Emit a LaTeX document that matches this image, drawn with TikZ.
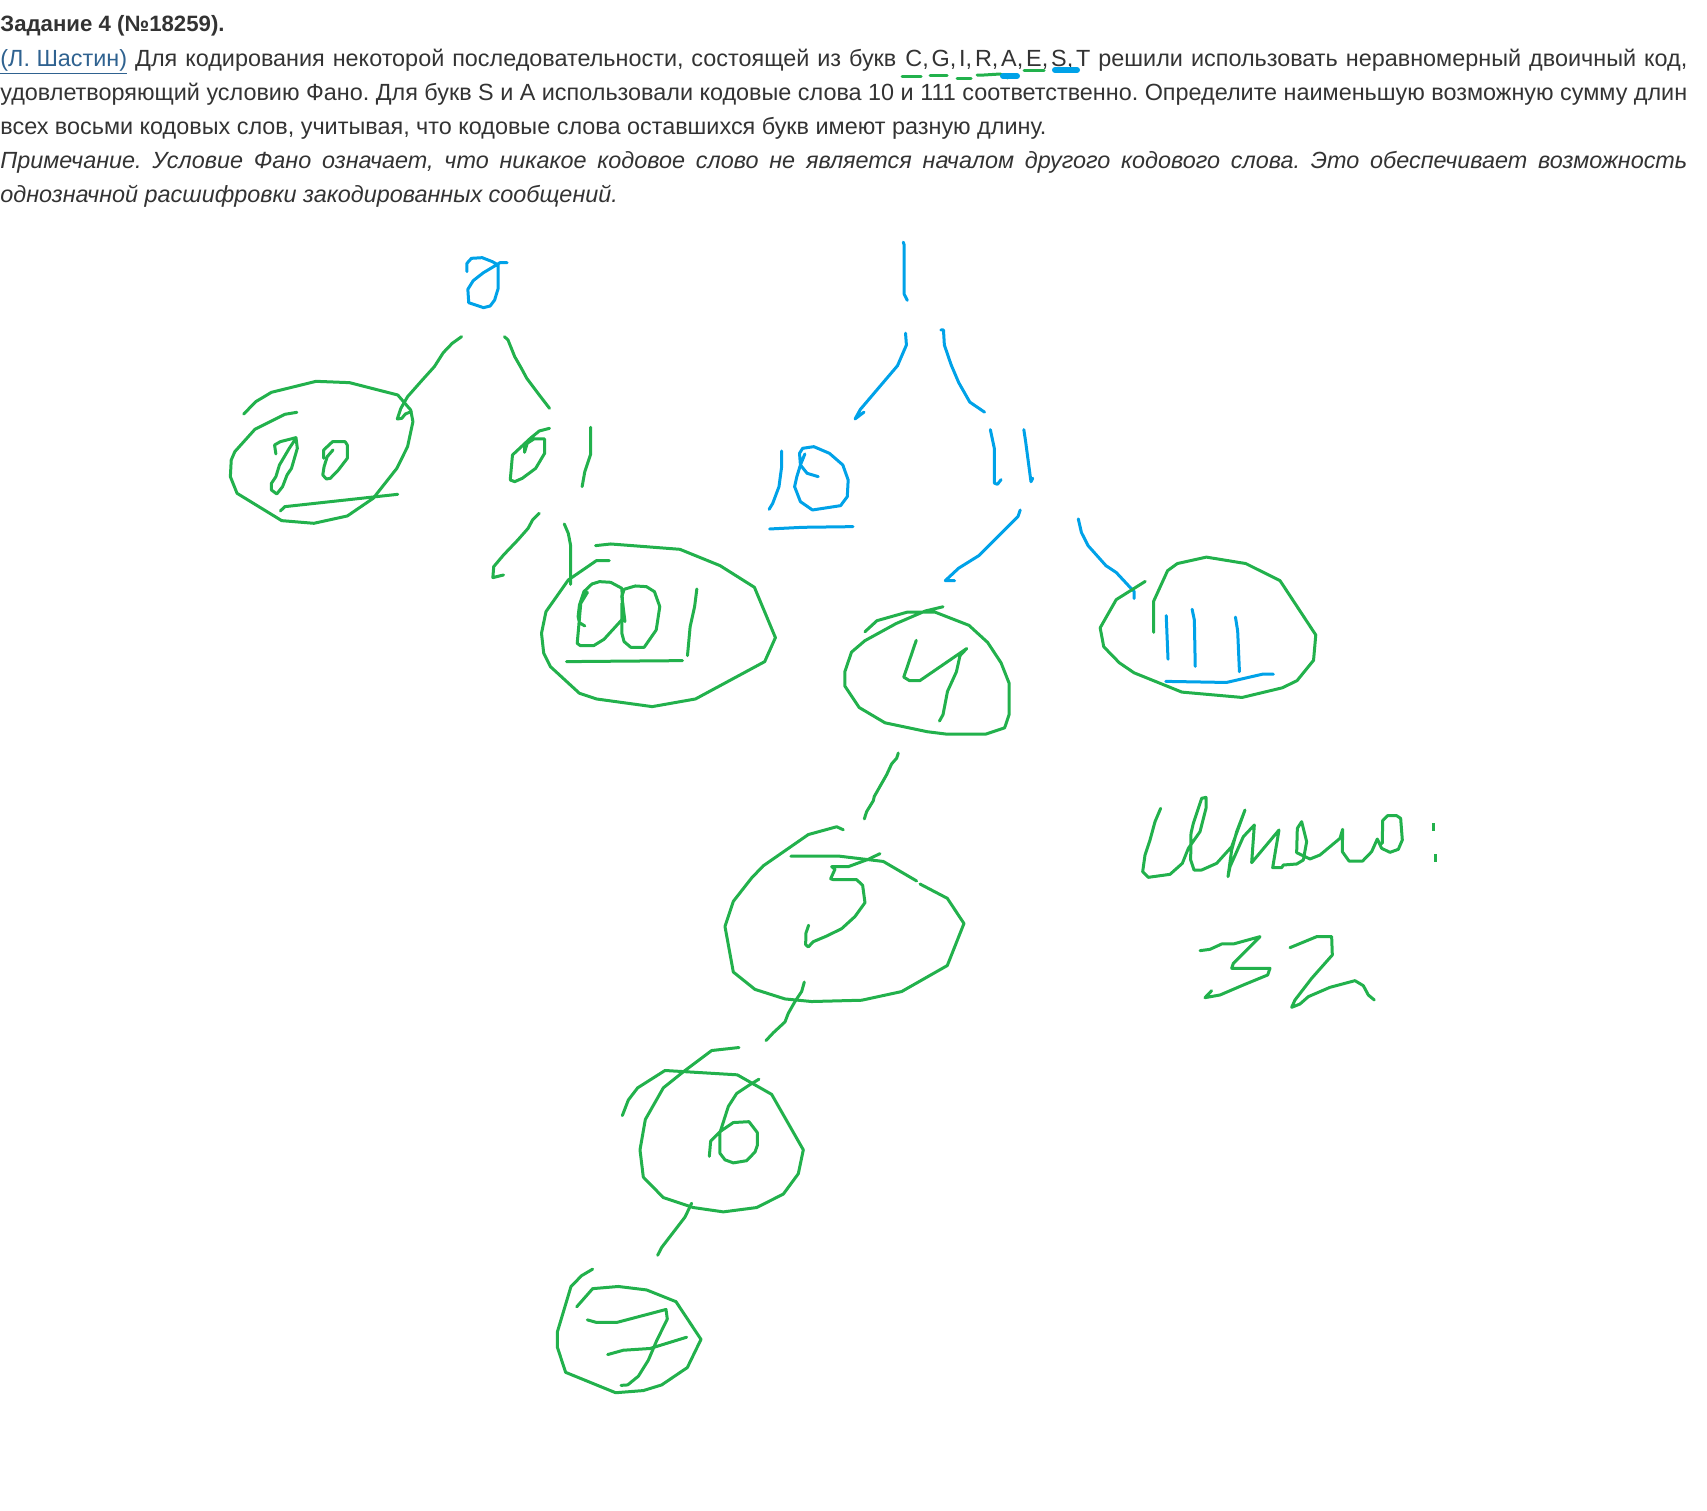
\documentclass[tikz,border=0pt]{standalone}
\usepackage{fontspec}
\setmainfont{Liberation Sans}
\definecolor{penGreen}{HTML}{22B14C}
\definecolor{penBlue}{HTML}{00A2E8}
\definecolor{textGray}{HTML}{333333}
\definecolor{linkBlue}{HTML}{2F6290}
\newcommand{\fullline}[1]{\makebox[843.5pt][s]{#1}}
\frenchspacing
\tikzset{
	textline/.style={anchor=base west,inner sep=0pt,text=textGray,font=\fontsize{11.7}{13}\selectfont},
	greenpen/.style={draw=penGreen,line width=1.5pt,line join=round,line cap=round},
	bluepen/.style={draw=penBlue,line width=1.5pt,line join=round,line cap=round},
	viewA/.style={shift={(200,220)},xscale=.4464,yscale=.3333},
	viewB/.style={shift={(760,220)},xscale=.4464,yscale=.3571},
	viewC/.style={shift={(540,740)},xscale=.3333,yscale=.4337},
	viewD/.style={shift={(1120,780)},xscale=.3333,yscale=.3333},
}
\begin{document}
\begin{tikzpicture}[x=.5pt,y=-.5pt]
\useasboundingbox (0,0) rectangle (1707,1510);
% task text
\node[textline,font=\fontsize{11.1}{13}\selectfont] (title) at (0,31.5) {\textbf{Задание 4 (№18259).}};
\node[textline] (lineA) at (0,66) {\makebox[448pt][s]{\textcolor{linkBlue}{\underline{(Л. Шастин)}} Для кодирования некоторой последовательности, состоящей из букв}\hspace{4.5pt}\makebox[92.5pt][s]{\spaceskip=1pt plus 4pt C, G, I, R, A, E, S, T}\hspace{4pt}\makebox[294.5pt][s]{решили использовать неравномерный двоичный код,}};
\node[textline] (lineB) at (0,100) {\fullline{удовлетворяющий условию Фано. Для букв S и A использовали кодовые слова 10 и 111 соответственно. Определите наименьшую возможную сумму длин}};
\node[textline] (lineC) at (0,134) {всех восьми кодовых слов, учитывая, что кодовые слова оставшихся букв имеют разную длину.};
\node[textline] (lineD) at (0,168) {\fullline{\itshape Примечание. Условие Фано означает, что никакое кодовое слово не является началом другого кодового слова. Это обеспечивает возможность}};
\node[textline] (lineE) at (0,202) {\itshape однозначной расшифровки закодированных сообщений.};
% marks under the letters
\draw[greenpen] (902,76)--(921,76);
\draw[greenpen] (930,75)--(947,75);
\draw[greenpen] (957,78)--(971,78);
\draw[greenpen] (977,75)--(984,75)--(1000,74)--(1008,78);
\draw[greenpen] (1024,70)--(1044,70);
\draw[bluepen,line width=3pt] (1003,76)--(1017,76);
\draw[bluepen,line width=3pt] (1055,70)--(1077,70);
% left part of the tree
\begin{scope}[viewA]
\draw[bluepen] plot coordinates {(598,155)(598,130)(608,115)(632,113)(655,125)(668,135)(668,205)(660,240)(650,258)(635,263)(602,248)(600,208)(612,182)(635,158)(660,138)(672,128)(688,128)};
\draw[greenpen] plot coordinates {(586,350)(565,370)(545,398)(525,440)(498,480)(465,530)(450,565)(442,597)(452,595)(460,582)(473,575)};
\draw[greenpen] plot coordinates {(682,350)(690,360)(705,410)(720,445)(732,475)(760,525)(783,565)};
\draw[greenpen] plot coordinates {(98,582)(125,545)(160,517)(260,484)(335,488)(443,525)(472,570)(477,605)(465,680)(441,745)(388,835)(330,888)(255,910)(183,902)(83,820)(68,770)(70,720)(78,695)(123,628)(190,583)(217,577)};
\draw[greenpen] plot coordinates {(180,873)(190,860)(443,823)};
\draw[greenpen] plot coordinates {(170,702)(167,675)(180,665)(215,653)(218,685)(205,745)(195,765)(185,800)(172,822)(160,810)(160,790)(170,770)(178,735)(200,685)(215,655)};
\draw[greenpen] plot coordinates {(298,690)(285,710)(278,740)(275,765)(283,777)(292,775)(310,750)(330,715)(330,675)(325,665)(297,665)(277,690)(277,715)};
\draw[greenpen] plot coordinates {(783,625)(760,633)(740,655)(727,678)(727,697)(733,670)(748,657)(772,657)(772,700)(752,745)(722,775)(705,785)(695,780)(700,705)(740,655)};
\draw[greenpen] plot coordinates {(875,622)(875,703)(862,755)(856,800)};
\draw[greenpen] plot coordinates {(760,880)(745,900)(735,925)(712,960)(680,1005)(658,1040)(656,1073)(680,1065)};
\draw[greenpen] plot coordinates {(816,912)(825,940)(830,975)(830,1093)};
\draw[greenpen] plot coordinates {(886,977)(920,972)(1075,988)(1165,1037)(1242,1102)(1289,1253)(1265,1325)(1110,1437)(1013,1460)(888,1437)(850,1420)(785,1340)(770,1300)(765,1240)(775,1175)(825,1080)(888,1022)(917,1022)};
\draw[greenpen] plot coordinates {(868,1117)(853,1150)(845,1270)(852,1277)(882,1277)(905,1258)(948,1195)(945,1105)(920,1087)(895,1085)(878,1092)(860,1115)(850,1155)(847,1190)(850,1208)(862,1218)};
\draw[greenpen] plot coordinates {(952,1205)(945,1130)(950,1108)(975,1098)(1000,1100)(1018,1115)(1030,1160)(1022,1230)(995,1282)(965,1282)(950,1265)(945,1240)(945,1150)};
\draw[greenpen] plot coordinates {(1113,1107)(1108,1160)(1098,1220)(1092,1307)};
\draw[greenpen] plot coordinates {(821,1325)(1081,1322)};
\draw[bluepen] plot coordinates {(1303,693)(1303,740)(1297,800)(1283,850)(1275,868)};
\draw[bluepen] plot coordinates {(1355,702)(1345,735)(1337,770)(1332,800)(1345,845)(1372,870)(1435,857)(1450,830)(1452,780)(1440,735)(1410,700)(1375,680)(1350,685)(1343,700)(1345,735)(1360,760)(1385,770)};
\draw[bluepen] plot coordinates {(1276,927)(1350,922)(1463,920)};
\end{scope}
% right part of the tree
\begin{scope}[viewB]
\draw[bluepen] plot coordinates {(321,62)(323,70)(323,208)(330,225)};
\draw[bluepen] plot coordinates {(326,317)(328,350)(308,408)(225,530)(213,557)(233,538)};
\draw[bluepen] plot coordinates {(405,308)(411,308)(413,350)(428,405)(445,455)(470,510)(503,538)};
\draw[bluepen] plot coordinates {(516,587)(525,640)(525,737)(532,740)(540,727)};
\draw[bluepen] plot coordinates {(591,587)(595,620)(607,733)(611,723)};
\draw[bluepen] plot coordinates {(583,812)(578,830)(490,940)(445,975)(415,1010)(436,1010)};
\draw[bluepen] plot coordinates {(713,837)(720,875)(735,912)(775,968)(798,987)(830,1030)(838,1040)(838,1060)};
\draw[greenpen] plot coordinates {(863,1012)(798,1063)(762,1142)(770,1195)(805,1240)(838,1268)(945,1322)(1080,1337)(1170,1310)(1203,1290)(1240,1233)(1245,1162)(1165,1010)(1088,962)(1000,944)(935,962)(913,982)(882,1067)(882,1155)};
\draw[bluepen] plot coordinates {(910,1108)(914,1230)};
\draw[bluepen] plot coordinates {(968,1090)(973,1120)(975,1250)};
\draw[bluepen] plot coordinates {(1065,1112)(1070,1150)(1074,1265)};
\draw[bluepen] plot coordinates {(909,1292)(1045,1295)(1125,1272)(1150,1272)};
\draw[greenpen] plot coordinates {(410,1083)(370,1095)(305,1130)(235,1178)(205,1210)(190,1265)(190,1305)(222,1365)(280,1408)(375,1433)(420,1440)(505,1440)(548,1422)(558,1385)(558,1297)(540,1240)(510,1183)(468,1135)(392,1098)(330,1098)(262,1122)(235,1153)};
\draw[greenpen] plot coordinates {(350,1177)(322,1280)(335,1290)(358,1290)(463,1200)(448,1220)(440,1265)(420,1320)(410,1385)(402,1403)};
\end{scope}
% the chain below
\begin{scope}[viewC]
\draw[greenpen] plot coordinates {(1075,30)(1070,42)(1055,55)(1040,80)(1003,130)(1000,140)(980,165)(973,182)};
\draw[greenpen] plot coordinates {(910,207)(890,200)(805,218)(670,290)(635,318)(580,372)(555,430)(580,535)(645,575)(735,597)(815,603)(965,600)(1085,580)(1222,520)(1272,423)(1222,365)(1140,332)};
\draw[greenpen] plot coordinates {(1130,325)(1030,280)(900,268)(753,268)};
\draw[greenpen] plot coordinates {(1020,262)(985,275)(925,292)(875,292)(885,298)(872,320)(880,322)(950,322)(968,335)(975,375)(945,407)(905,435)(860,452)(820,465)(805,477)(797,472)(798,445)(806,427)};
\draw[greenpen] plot coordinates {(793,558)(785,580)(765,603)(745,630)(735,650)(700,675)(678,693)};
\draw[greenpen] plot coordinates {(597,709)(515,716)(430,765)(370,802)(316,875)(300,945)(310,1008)(370,1055)(460,1078)(550,1088)(650,1078)(730,1047)(775,1000)(790,945)(695,817)(592,772)(375,762)(293,802)(265,830)(247,866)};
\draw[greenpen] plot coordinates {(657,782)(625,797)(590,815)(565,845)(540,905)(540,953)(555,968)(580,975)(620,970)(645,950)(652,935)(652,905)(627,880)(580,882)(540,903)(512,925)(508,960)};
\draw[greenpen] plot coordinates {(455,1068)(435,1100)(390,1145)(365,1170)(353,1188)};
\draw[greenpen] plot coordinates {(158,1220)(125,1235)(93,1260)(52,1365)(52,1400)(77,1458)(227,1505)(310,1500)(365,1487)(442,1447)(483,1382)(408,1295)(320,1268)(235,1260)(158,1265)(110,1307)};
\draw[greenpen] plot coordinates {(142,1337)(170,1343)(230,1343)(378,1313)(382,1335)(350,1385)(325,1430)(295,1467)(263,1487)(243,1488)};
\draw[greenpen] plot coordinates {(203,1417)(250,1407)(330,1403)(440,1377)};
\end{scope}
% the handwritten total
\begin{scope}[viewD]
\draw[greenpen] plot coordinates {(122,85)(105,125)(90,180)(75,225)(68,275)(85,292)(150,283)(187,250)(205,205)(240,155)(258,85)(258,52)(245,55)(220,130)(213,160)(212,240)(222,270)(245,270)(290,250)(335,200)(375,90)(350,155)(335,210)(324,290)(330,260)(370,170)(403,135)(395,248)(477,150)(458,263)(485,263)(490,255)(530,252)(550,240)(560,185)(545,125)(532,145)(530,218)(570,237)(600,225)(660,175)(668,148)(667,215)(687,243)(728,243)(755,215)(772,177)(785,205)(810,217)(835,208)(847,180)(842,115)(830,107)(803,107)(788,122)(787,190)};
\draw[greenpen,line cap=butt] plot coordinates {(941,130)(941,152)};
\draw[greenpen,line cap=butt] plot coordinates {(946,222)(946,245)};
\draw[greenpen] plot coordinates {(240,512)(270,508)(305,492)(340,492)(420,470)(340,550)(335,565)(450,565)(443,585)(370,615)(300,645)(255,653)(275,632)};
\draw[greenpen] plot coordinates {(510,503)(590,470)(635,470)(637,525)(575,595)(525,660)(515,682)(540,672)(565,650)(630,622)(705,602)(730,617)(745,645)(763,660)};
\end{scope}
\end{tikzpicture}
\end{document}
